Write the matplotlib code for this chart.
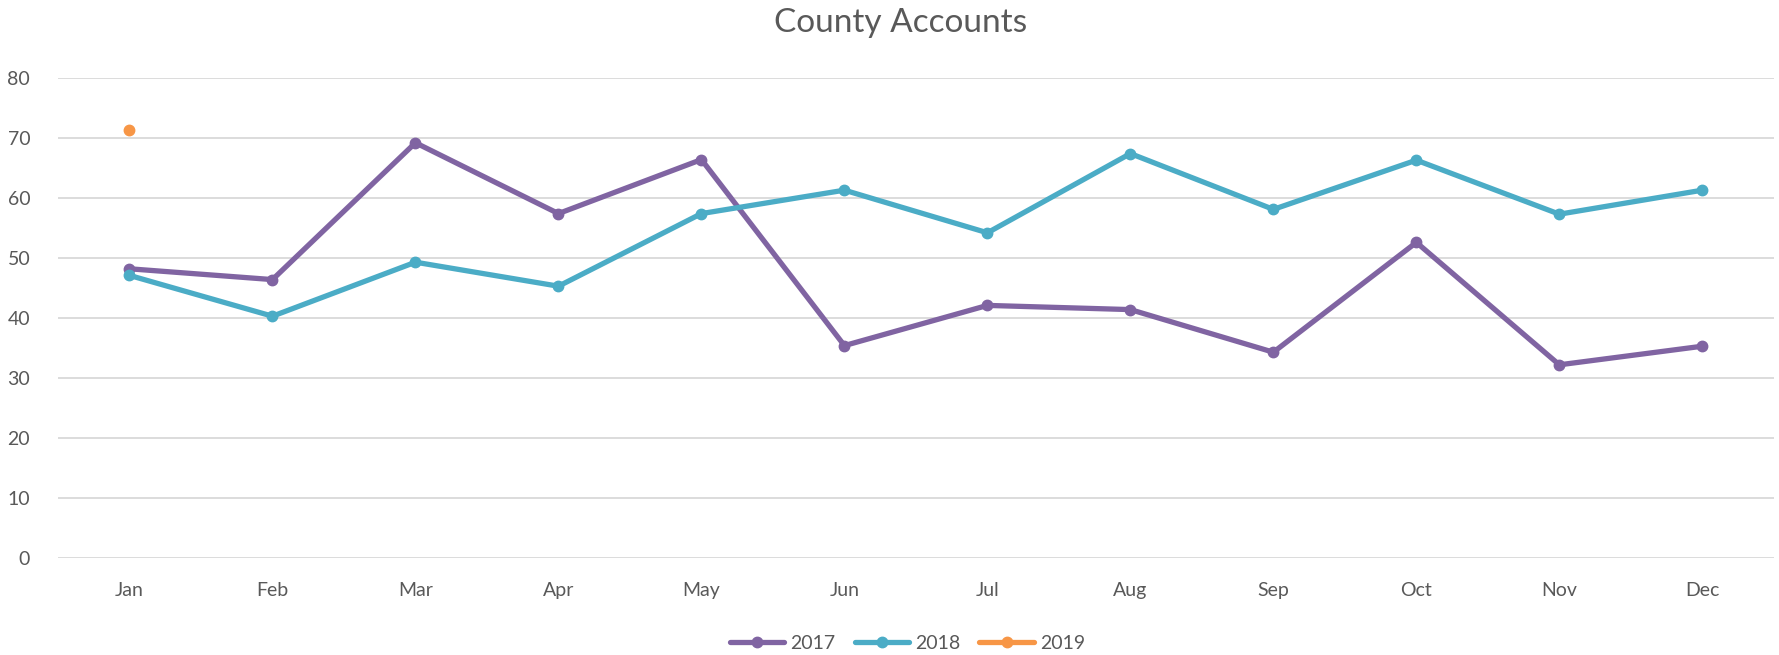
import numpy as np
import matplotlib.pyplot as plt

months = ["Jan", "Feb", "Mar", "Apr", "May", "Jun", "Jul", "Aug", "Sep", "Oct", "Nov", "Dec"]
y2017 = [48.2, 46.4, 69.2, 57.4, 66.4, 35.4, 42.1, 41.4, 34.3, 52.6, 32.2, 35.3]
y2018 = [47.1, 40.3, 49.3, 45.3, 57.4, 61.3, 54.2, 67.4, 58.1, 66.3, 57.3, 61.3]
y2019 = [71.4] + [np.nan] * 11

colors = {"2017": "#8064A2", "2018": "#4BACC6", "2019": "#F79646"}
text_color = "#595959"

plt.rcParams['font.family'] = ['Lato', 'DejaVu Sans']

fig = plt.figure(figsize=(17.79, 6.55), dpi=100)
ax = fig.add_axes([0.0326, 0.148, 0.9645, 0.733])

x = np.arange(len(months))
for name, vals in [("2017", y2017), ("2018", y2018), ("2019", y2019)]:
    ax.plot(x, vals, color=colors[name], lw=3.8, marker="o", markersize=7.5,
            solid_capstyle="round", label=name, zorder=3)

ax.set_xlim(-0.5, 11.5)
ax.set_ylim(0, 80)
ax.set_yticks(range(0, 81, 10))
ax.set_xticks(x)
ax.set_xticklabels(months)
ax.grid(axis="y", color="#D9D9D9", lw=1.3, zorder=0)
for s in ax.spines.values():
    s.set_visible(False)
ax.tick_params(axis="both", length=0, labelsize=14, colors=text_color)
ax.tick_params(axis="x", pad=17)
ax.tick_params(axis="y", pad=20)

fig.text(0.506, 0.965, "County Accounts", ha="center", va="center",
         fontsize=24, color=text_color)

leg = fig.legend(loc="center", bbox_to_anchor=(0.51, 0.018), ncol=3, frameon=False,
                 fontsize=14, handlelength=2.8, columnspacing=1.0, handletextpad=0.3)
for t in leg.get_texts():
    t.set_color(text_color)

fig.savefig("out.png", dpi=100)
